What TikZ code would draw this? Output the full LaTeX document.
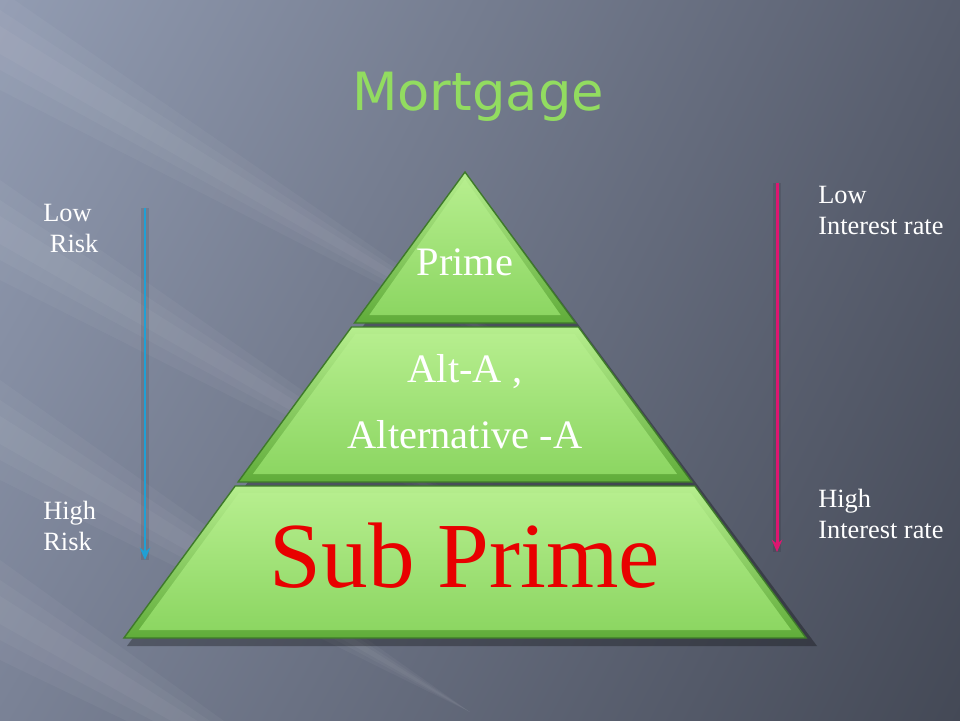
\documentclass[tikz,border=0pt]{standalone}
\usepackage{fontspec}
\setmainfont{Liberation Serif}
\newfontfamily\titlefont{DejaVu Sans}
\usepackage{xcolor}
\usepackage{tikz}
\usetikzlibrary{arrows.meta,positioning,shadings}

\definecolor{slatelight}{RGB}{146,156,178}
\definecolor{slateleft}{RGB}{122,130,150}
\definecolor{slatemid}{RGB}{88,94,110}
\definecolor{slatedark}{RGB}{68,73,86}
\definecolor{leafhigh}{RGB}{182,238,142}
\definecolor{leafmid}{RGB}{140,214,98}
\definecolor{leaflow}{RGB}{96,172,58}
\definecolor{leafedge}{RGB}{62,122,42}
\definecolor{titlegreen}{RGB}{146,220,96}
\definecolor{riskblue}{RGB}{32,160,212}
\definecolor{ratepink}{RGB}{222,22,112}
\definecolor{subred}{RGB}{232,0,0}

\begin{document}
\begin{tikzpicture}
    [x=0.02cm, y=-0.02cm,
     side/.style={text=white, font=\fontsize{15}{17.5}\selectfont, align=left, inner sep=0pt, anchor=north west},
     tier/.style={text=white, font=\fontsize{23}{26}\selectfont, inner sep=0pt, anchor=base},
     scale arrow/.style={-{Stealth[length=7pt, width=6pt]}, line width=1.7pt},
     arrow shade/.style={line width=4pt, black, opacity=0.1, xshift=3pt, yshift=-2pt}]
    \useasboundingbox (0,0) rectangle (960,720);

    % background
    \shade[upper left=slatelight, upper right=slatemid, lower left=slateleft, lower right=slatedark]
        (0,0) rectangle (960,720);
    \foreach \c/\l in {40/560, 230/520, 430/470, 610/420}{
        \foreach \w in {14, 30, 50}{
            \fill[white, opacity=0.04] (0,\c-\w) -- (\l,\c+0.6*\l) -- (0,\c+\w) -- cycle;
        }
    }

    % title
    \node[anchor=base, text=titlegreen, font=\titlefont\fontsize{30}{34}\selectfont] (title) at (478,110) {Mortgage};

    % pyramid
    \fill[black, opacity=0.3] (471,180) -- (817,646) -- (127,646) -- cycle;
    \foreach \t/\b in {172/323, 327/482, 486/638}{
        \shade[top color=leafhigh, bottom color=leaflow, draw=leafedge, line width=0.8pt]
            ({465-0.732*(\t-172)},\t) -- ({465+0.732*(\t-172)},\t)
            -- ({465+0.732*(\b-172)},\b) -- ({465-0.732*(\b-172)},\b) -- cycle;
        \shade[top color=leafhigh, bottom color=leafmid]
            ({min(465,465-0.732*(\t+7-172)+9)},\t+7) -- ({max(465,465+0.732*(\t+7-172)-9)},\t+7)
            -- ({465+0.732*(\b-8-172)-9},\b-8) -- ({465-0.732*(\b-8-172)+9},\b-8) -- cycle;
    }
    \node[tier] (prime) at (465,275) {Prime};
    \node[tier] (alta) at (465,382) {Alt-A ,};
    \node[tier] (altb) at (465,448) {Alternative -A};
    \node[anchor=base, text=subred, font=\fontsize{53}{60}\selectfont, inner sep=0pt] (sub) at (465,587) {Sub Prime};

    % risk scale
    \node[side] (lowrisk) at (43,204) {Low\\\hspace*{0.25em}Risk};
    \node[side] (highrisk) at (43,501) {High\\Risk};
    \coordinate (risktop) at (145,208);
    \coordinate (riskbot) at (145,560);
    \draw[arrow shade] (risktop) -- (riskbot);
    \draw[scale arrow, riskblue] (risktop) -- (riskbot);

    % interest scale
    \node[side] (lowrate) at (818,186) {Low\\Interest rate};
    \node[side] (highrate) at (818,489) {High\\Interest rate};
    \coordinate (ratetop) at (777,183);
    \coordinate (ratebot) at (777,552);
    \draw[arrow shade] (ratetop) -- (ratebot);
    \draw[scale arrow, ratepink] (ratetop) -- (ratebot);
\end{tikzpicture}
\end{document}
